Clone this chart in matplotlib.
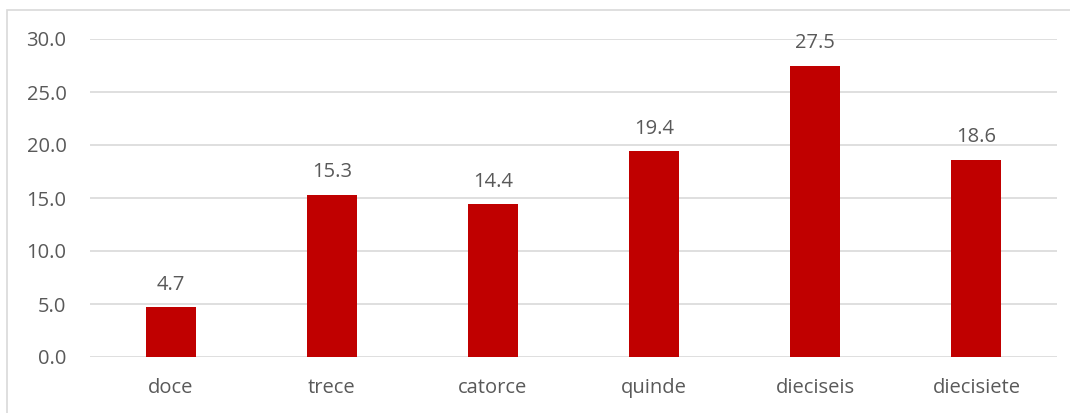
import matplotlib.pyplot as plt
from matplotlib.patches import Rectangle

categories = ["doce", "trece", "catorce", "quinde", "dieciseis", "diecisiete"]
values = [4.7, 15.3, 14.4, 19.4, 27.5, 18.6]
y_ticks = [0, 5, 10, 15, 20, 25, 30]

plt.rcParams['font.family'] = ['Open Sans', 'DejaVu Sans']
text_color = '#595959'
grid_color = '#D9D9D9'

fig = plt.figure(figsize=(10.7, 4.13), dpi=100)
ax = fig.add_axes([90 / 1070, 1 - 357 / 413, 967 / 1070, 318 / 413])

x = list(range(len(categories)))
ax.bar(x, values, width=0.31, color='#C00000', zorder=3)
for xi, v in zip(x, values):
    ax.annotate(f"{v:.1f}", (xi, v), xytext=(0, 9), textcoords='offset points',
                ha='center', va='bottom', fontsize=14.5, color=text_color)

ax.set_xlim(-0.5, len(categories) - 0.5)
ax.set_ylim(0, 30)
ax.set_yticks(y_ticks)
ax.set_yticklabels([f"{t:.1f}" for t in y_ticks])
ax.set_xticks(x)
ax.set_xticklabels(categories)
ax.grid(axis='y', color=grid_color, linewidth=1.2, zorder=0)
for s in ax.spines.values():
    s.set_visible(False)
ax.tick_params(axis='both', length=0, labelsize=14.5, colors=text_color)
ax.tick_params(axis='y', pad=17)
ax.tick_params(axis='x', pad=15)

# chart border (only top and left visible in the crop)
fig.patches.append(Rectangle((7 / 1070, -0.1), 1.2, 1 - 10 / 413 + 0.1,
                             transform=fig.transFigure, fill=False,
                             edgecolor=grid_color, linewidth=1.2))

fig.savefig("out.png", dpi=100)
